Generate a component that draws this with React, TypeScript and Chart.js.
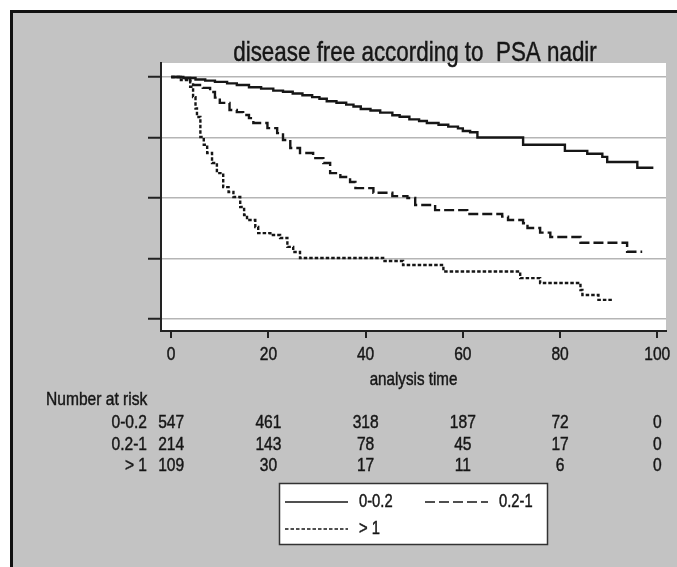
import React, { useEffect, useRef } from "react";
import { Chart, registerables } from "chart.js";

Chart.register(...registerables);

const FONT = "'Liberation Sans', Arial, sans-serif";
const NARROW = 0.82; // horizontal squeeze to mimic a narrow grotesque face

const TITLE = "disease free according to  PSA nadir";
const X_TITLE = "analysis time";
const X_TICKS = [0, 20, 40, 60, 80, 100];
const Y_TICKS = [0, 0.25, 0.5, 0.75, 1];

const GROUPS = ["0-0.2", "0.2-1", "> 1"];

// Kaplan-Meier steps, group 0-0.2
const T_LOW = [0, 2.5, 5, 7, 9, 11.5, 13.5, 16, 18.5, 21, 23, 25, 27, 29, 30.5, 32, 34, 36, 37.5, 39, 41, 43, 45.5, 47, 49, 51, 52.6, 55, 57, 59, 60, 61.5, 63, 72.4, 81, 85.6, 88.7, 89.7, 95.9, 99.2];
const S_LOW = [1, 0.996, 0.99, 0.985, 0.98, 0.974, 0.967, 0.958, 0.952, 0.944, 0.939, 0.932, 0.925, 0.917, 0.91, 0.9, 0.894, 0.886, 0.878, 0.868, 0.862, 0.853, 0.842, 0.836, 0.825, 0.818, 0.81, 0.803, 0.795, 0.788, 0.777, 0.772, 0.75, 0.72, 0.695, 0.683, 0.67, 0.649, 0.625, 0.625];

// group 0.2-1
const T_MID = [0, 2, 3.9, 4.5, 6.5, 8, 9, 10, 12, 13.5, 14.8, 16, 16.9, 19.8, 21.8, 23, 24.5, 26.5, 29.2, 31.3, 32.7, 34.8, 36.8, 37.9, 41.6, 45.5, 48.6, 50.2, 54.3, 60.9, 68.1, 69.3, 72.4, 73.3, 75.9, 78, 84.2, 93.8, 96.9];
const S_MID = [1, 0.996, 0.985, 0.967, 0.955, 0.938, 0.915, 0.893, 0.864, 0.855, 0.843, 0.83, 0.81, 0.789, 0.768, 0.74, 0.707, 0.686, 0.665, 0.645, 0.603, 0.587, 0.566, 0.541, 0.522, 0.508, 0.5, 0.471, 0.45, 0.434, 0.423, 0.409, 0.396, 0.376, 0.357, 0.339, 0.315, 0.278, 0.278];

// group > 1
const T_HIGH = [0, 2, 3.9, 4.5, 5, 5.3, 6, 6.7, 7.4, 8.4, 9.4, 10.7, 11.8, 12.8, 14.2, 15, 15.6, 17.3, 17.9, 20.4, 22.4, 23.9, 25.1, 26.5, 43.6, 47.7, 56, 71.8, 75.9, 84.2, 84.6, 87.9, 90.7];
const S_HIGH = [1, 0.988, 0.96, 0.917, 0.87, 0.835, 0.752, 0.72, 0.686, 0.645, 0.603, 0.545, 0.525, 0.504, 0.463, 0.43, 0.409, 0.38, 0.355, 0.347, 0.335, 0.298, 0.277, 0.252, 0.24, 0.223, 0.196, 0.169, 0.149, 0.12, 0.099, 0.079, 0.079];

const RISK_TITLE = "Number at risk";
const RISK_TIMES = [0, 20, 40, 60, 80, 100];
const RISK_LOW = [547, 461, 318, 187, 72, 0];
const RISK_MID = [214, 143, 78, 45, 17, 0];
const RISK_HIGH = [109, 30, 17, 11, 6, 0];

const INK = "#161616";

function text(
  ctx: CanvasRenderingContext2D,
  s: string,
  x: number,
  y: number,
  size: number,
  align: CanvasTextAlign,
  baseline: CanvasTextBaseline = "middle",
  sx: number = NARROW
) {
  ctx.save();
  ctx.translate(x, y);
  ctx.scale(sx, 1);
  ctx.font = `${size}px ${FONT}`;
  ctx.textAlign = align;
  ctx.textBaseline = baseline;
  ctx.fillStyle = INK;
  ctx.strokeStyle = INK;
  ctx.lineWidth = 0.45;
  ctx.fillText(s, 0, 0);
  ctx.strokeText(s, 0, 0);
  ctx.restore();
}

const decorPlugin = {
  id: "decor",
  beforeDraw(chart: any) {
    const { ctx, width, height, chartArea: ca } = chart;
    ctx.save();
    ctx.fillStyle = "#ffffff";
    ctx.fillRect(0, 0, width, height);
    ctx.fillStyle = "#c3c3c3";
    ctx.fillRect(10, 10, width - 10, height - 10);
    ctx.fillStyle = "#111111";
    ctx.fillRect(10, 10, width - 10, 3);
    ctx.fillRect(10, 10, 3, height - 10);
    ctx.fillStyle = "#ffffff";
    ctx.fillRect(ca.left, ca.top, ca.right - ca.left, ca.bottom - ca.top);
    ctx.restore();
  },
  afterDraw(chart: any) {
    const { ctx, chartArea: ca } = chart;
    const xs = chart.scales.x;

    // title
    text(ctx, TITLE, 415, 61, 28, "center", "alphabetic", 0.8);

    // x tick labels and axis title
    X_TICKS.forEach((v) => {
      text(ctx, String(v), xs.getPixelForValue(v), 355, 19, "center");
    });
    text(ctx, X_TITLE, (ca.left + ca.right) / 2, 380, 18.5, "center");

    // number at risk table
    text(ctx, RISK_TITLE, 46, 400, 19, "left");
    const rows = [RISK_LOW, RISK_MID, RISK_HIGH];
    const rowY = [423, 445, 466];
    rows.forEach((vals, r) => {
      text(ctx, GROUPS[r], 147, rowY[r], 19, "right");
      vals.forEach((v, i) => {
        text(ctx, String(v), xs.getPixelForValue(RISK_TIMES[i]), rowY[r], 19, "center");
      });
    });

    // legend box
    ctx.save();
    ctx.fillStyle = "#ffffff";
    ctx.fillRect(279, 483, 269, 62);
    ctx.strokeStyle = "#333333";
    ctx.lineWidth = 1.5;
    ctx.strokeRect(279.5, 483.5, 268, 61);
    const items = [
      { x: 285, y: 502, tx: 359 },
      { x: 425, y: 502, tx: 499 },
      { x: 285, y: 529, tx: 359 },
    ];
    chart.data.datasets.forEach((ds: any, i: number) => {
      const it = items[i];
      ctx.beginPath();
      ctx.setLineDash(ds.borderDash || []);
      ctx.strokeStyle = ds.borderColor;
      ctx.lineWidth = 1.5;
      ctx.moveTo(it.x, it.y);
      ctx.lineTo(it.x + 63, it.y);
      ctx.stroke();
      ctx.setLineDash([]);
      text(ctx, ds.label, it.tx, it.y, 18, "left");
    });
    ctx.restore();
  },
};

function toPoints(t: number[], s: number[]) {
  return t.map((v, i) => ({ x: v, y: s[i] }));
}

export default function App() {
  const ref = useRef<HTMLCanvasElement | null>(null);
  useEffect(() => {
    if (!ref.current) return;
    const common = {
      borderColor: INK,
      borderWidth: 2.4,
      pointRadius: 0,
      fill: false,
      stepped: true,
      tension: 0,
    };
    const chart = new Chart(ref.current, {
      type: "line",
      data: {
        datasets: [
          { ...common, label: GROUPS[0], data: toPoints(T_LOW, S_LOW), borderDash: [] },
          { ...common, label: GROUPS[1], data: toPoints(T_MID, S_MID), borderDash: [10, 4] },
          { ...common, label: GROUPS[2], data: toPoints(T_HIGH, S_HIGH), borderDash: [3.5, 2] },
        ],
      },
      options: {
        animation: false,
        responsive: false,
        devicePixelRatio: 1,
        layout: { padding: { top: 63, right: 11, bottom: 177, left: 0 } },
        plugins: {
          legend: { display: false },
          title: { display: false },
          tooltip: { enabled: false },
        },
        scales: {
          x: {
            type: "linear",
            min: -2.1,
            max: 101.8,
            afterBuildTicks: (s: any) => {
              s.ticks = X_TICKS.map((v) => ({ value: v }));
            },
            afterFit: (s: any) => {
              s.height = 59;
            },
            grid: {
              drawOnChartArea: false,
              drawTicks: true,
              tickLength: 7,
              tickColor: "#222",
              tickWidth: 2,
              lineWidth: 2,
            },
            border: { display: true, color: "#222", width: 2 },
            ticks: { display: false },
            title: { display: false },
          },
          y: {
            type: "linear",
            min: -0.0496,
            max: 1.058,
            afterBuildTicks: (s: any) => {
              s.ticks = Y_TICKS.map((v) => ({ value: v }));
            },
            afterFit: (s: any) => {
              s.width = 161;
            },
            grid: {
              color: "#b5b5b5",
              lineWidth: 1.5,
              drawTicks: true,
              tickLength: 13,
              tickColor: "#222",
              tickWidth: 2,
            },
            border: { display: true, color: "#222", width: 2 },
            ticks: { display: false },
          },
        },
      } as any,
      plugins: [decorPlugin],
    });
    return () => chart.destroy();
  }, []);
  return (
    <div style={{ position: "absolute", left: 0, top: 0, width: 677, height: 567 }}>
      <canvas ref={ref} width={677} height={567} style={{ display: "block" }} />
    </div>
  );
}
